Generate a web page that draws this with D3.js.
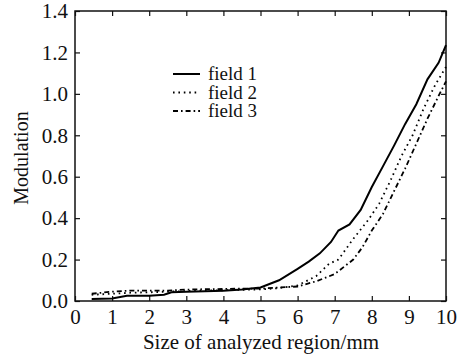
<!DOCTYPE html>
<html>
<head>
<meta charset="utf-8">
<script src="https://cdn.jsdelivr.net/npm/d3@7"></script>
<style>
  body { margin: 0; background: #fff; }
  svg text { font-family: "Liberation Serif", "DejaVu Serif", serif; fill: #111; }
</style>
</head>
<body>
<div id="chart"></div>
<script>
const width = 470, height = 358;
const margin = {top: 11, right: 24, bottom: 57, left: 75};

const xTicks = [0, 1, 2, 3, 4, 5, 6, 7, 8, 9, 10];
const yTicks = [0, 0.2, 0.4, 0.6, 0.8, 1.0, 1.2, 1.4];

const field1X = [0.45, 1, 1.4, 2, 2.4, 2.6, 3, 3.5, 4, 4.5, 5, 5.5, 6, 6.3, 6.6, 6.9, 7.1, 7.4, 7.7, 8, 8.3, 8.6, 8.9, 9.2, 9.5, 9.8, 10];
const field1Y = [0.01, 0.012, 0.025, 0.025, 0.03, 0.042, 0.045, 0.047, 0.05, 0.055, 0.065, 0.1, 0.155, 0.19, 0.23, 0.285, 0.34, 0.37, 0.44, 0.55, 0.65, 0.75, 0.855, 0.95, 1.07, 1.15, 1.235];

const field2X = [0.45, 1, 1.5, 2, 2.5, 3, 3.5, 4, 4.5, 5, 5.5, 6, 6.5, 6.85, 7.1, 7.5, 7.9, 8.2, 8.5, 8.8, 9.1, 9.4, 9.7, 10];
const field2Y = [0.03, 0.035, 0.04, 0.042, 0.045, 0.048, 0.05, 0.052, 0.054, 0.056, 0.062, 0.075, 0.12, 0.18, 0.2, 0.3, 0.39, 0.47, 0.58, 0.7, 0.8, 0.93, 1.04, 1.13];

const field3X = [0.45, 1, 1.5, 2, 2.5, 3, 3.5, 4, 4.5, 5, 5.5, 6, 6.5, 7, 7.25, 7.5, 7.75, 8, 8.3, 8.6, 8.9, 9.2, 9.5, 9.8, 10];
const field3Y = [0.035, 0.045, 0.05, 0.05, 0.05, 0.055, 0.057, 0.058, 0.06, 0.06, 0.065, 0.07, 0.095, 0.13, 0.165, 0.2, 0.26, 0.34, 0.42, 0.53, 0.64, 0.76, 0.88, 0.99, 1.06];

const seriesNames = ["field 1", "field 2", "field 3"];

const series = [
    {name: seriesNames[0], xs: field1X, ys: field1Y, dash: null, width: 2},
    {name: seriesNames[1], xs: field2X, ys: field2Y, dash: "1.6,3.8", width: 1.8},
    {name: seriesNames[2], xs: field3X, ys: field3Y, dash: "5,3,1.6,3", width: 1.8}
];

const svg = d3.select("#chart")
    .append("svg")
    .attr("width", width)
    .attr("height", height);

const x = d3.scaleLinear().domain([0, 10]).range([margin.left, width - margin.right]);
const y = d3.scaleLinear().domain([0, 1.4]).range([height - margin.bottom, margin.top]);

const fmtY = d3.format(".1f");

// bottom axis with labels, ticks pointing in
svg.append("g")
    .attr("transform", `translate(0,${height - margin.bottom})`)
    .call(d3.axisBottom(x).tickValues(xTicks).tickFormat(d3.format("d")).tickSizeInner(-5).tickSizeOuter(0).tickPadding(8))
    .call(g => g.select(".domain").remove())
    .call(g => g.selectAll("text").attr("font-size", 21).attr("fill", "#111"));

svg.append("g")
    .attr("transform", `translate(${margin.left},0)`)
    .call(d3.axisLeft(y).tickValues(yTicks).tickFormat(fmtY).tickSizeInner(-5).tickSizeOuter(0).tickPadding(7))
    .call(g => g.select(".domain").remove())
    .call(g => g.selectAll("text").attr("font-size", 21).attr("fill", "#111"));

// top and right ticks, no labels
svg.append("g")
    .attr("transform", `translate(0,${margin.top})`)
    .call(d3.axisTop(x).tickValues(xTicks).tickFormat("").tickSizeInner(-5).tickSizeOuter(0))
    .call(g => g.select(".domain").remove());

svg.append("g")
    .attr("transform", `translate(${width - margin.right},0)`)
    .call(d3.axisRight(y).tickValues(yTicks).tickFormat("").tickSizeInner(-5).tickSizeOuter(0))
    .call(g => g.select(".domain").remove());

svg.selectAll(".tick line").attr("stroke", "#111").attr("stroke-width", 1.2);

// frame
svg.append("rect")
    .attr("x", margin.left)
    .attr("y", margin.top)
    .attr("width", width - margin.left - margin.right)
    .attr("height", height - margin.top - margin.bottom)
    .attr("fill", "none")
    .attr("stroke", "#111")
    .attr("stroke-width", 1.5);

const line = d3.line()
    .x(d => x(d[0]))
    .y(d => y(d[1]));

svg.selectAll("path.series")
    .data(series)
    .join("path")
    .attr("class", "series")
    .attr("d", d => line(d.xs.map((v, i) => [v, d.ys[i]])))
    .attr("fill", "none")
    .attr("stroke", "#000")
    .attr("stroke-width", d => d.width)
    .attr("stroke-dasharray", d => d.dash);

// legend
const legend = svg.append("g").attr("transform", "translate(173,74)");
const items = legend.selectAll("g")
    .data(series)
    .join("g")
    .attr("transform", (d, i) => `translate(0,${i * 18.5})`);

items.append("line")
    .attr("x1", 0).attr("x2", 27)
    .attr("stroke", "#000")
    .attr("stroke-width", d => d.width)
    .attr("stroke-dasharray", d => d.dash);

items.append("text")
    .attr("x", 35)
    .attr("y", 6)
    .attr("font-size", 19)
    .text(d => d.name);

// axis titles
svg.append("text")
    .attr("x", 261)
    .attr("y", 349)
    .attr("text-anchor", "middle")
    .attr("font-size", 21)
    .text("Size of analyzed region/mm");

svg.append("text")
    .attr("transform", `translate(28,${(margin.top + height - margin.bottom) / 2 + 2}) rotate(-90)`)
    .attr("text-anchor", "middle")
    .attr("font-size", 20)
    .text("Modulation");
</script>
</body>
</html>
